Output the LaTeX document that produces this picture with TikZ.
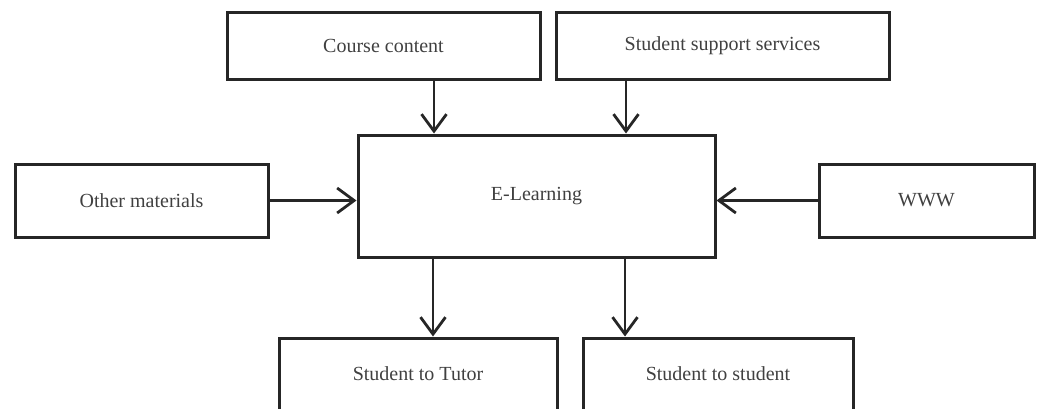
\documentclass[tikz,border=0pt]{standalone}
\usepackage{fontspec}
\setmainfont{Liberation Serif}
\usetikzlibrary{arrows.meta}
\begin{document}
\begin{tikzpicture}[x=1pt,y=-1pt,
  box/.style={draw=black!85, line width=3pt, inner sep=0pt, font=\fontsize{20}{24}\selectfont, text=black!75},
  arr/.style={line width=2.8pt, draw=black!85, -{Straight Barb[length=17pt,width=25pt,line width=2.8pt]}}]
\useasboundingbox (0,0) rectangle (1041,408);
\clip (0,0) rectangle (1041,408);
\node[box, minimum width=313pt, minimum height=67pt] (cc) at (383.5,45.5) {Course content};
\node[box, minimum width=333pt, minimum height=67pt] (sss) at (722.5,45.5) {Student support services};
\node[box, minimum width=357pt, minimum height=122pt] (el) at (536.5,196) {E-Learning};
\node[box, minimum width=253pt, minimum height=73pt] (om) at (141.5,200.5) {Other materials};
\node[box, minimum width=215pt, minimum height=73pt] (www) at (926.5,200.5) {WWW};
\node[box, minimum width=278pt, minimum height=72pt] (st) at (418,374) {Student to Tutor};
\node[box, minimum width=270pt, minimum height=72pt] (ss) at (718,374) {Student to student};
\draw[arr] (cc.south -| 434,0) -- (el.north -| 434,0);
\draw[arr] (sss.south -| 626,0) -- (el.north -| 626,0);
\draw[arr] (om.east) -- (el.west |- om.east);
\draw[arr] (www.west) -- (el.east |- www.west);
\draw[arr] (el.south -| 433,0) -- (st.north -| 433,0);
\draw[arr] (el.south -| 625,0) -- (ss.north -| 625,0);
\end{tikzpicture}
\end{document}
